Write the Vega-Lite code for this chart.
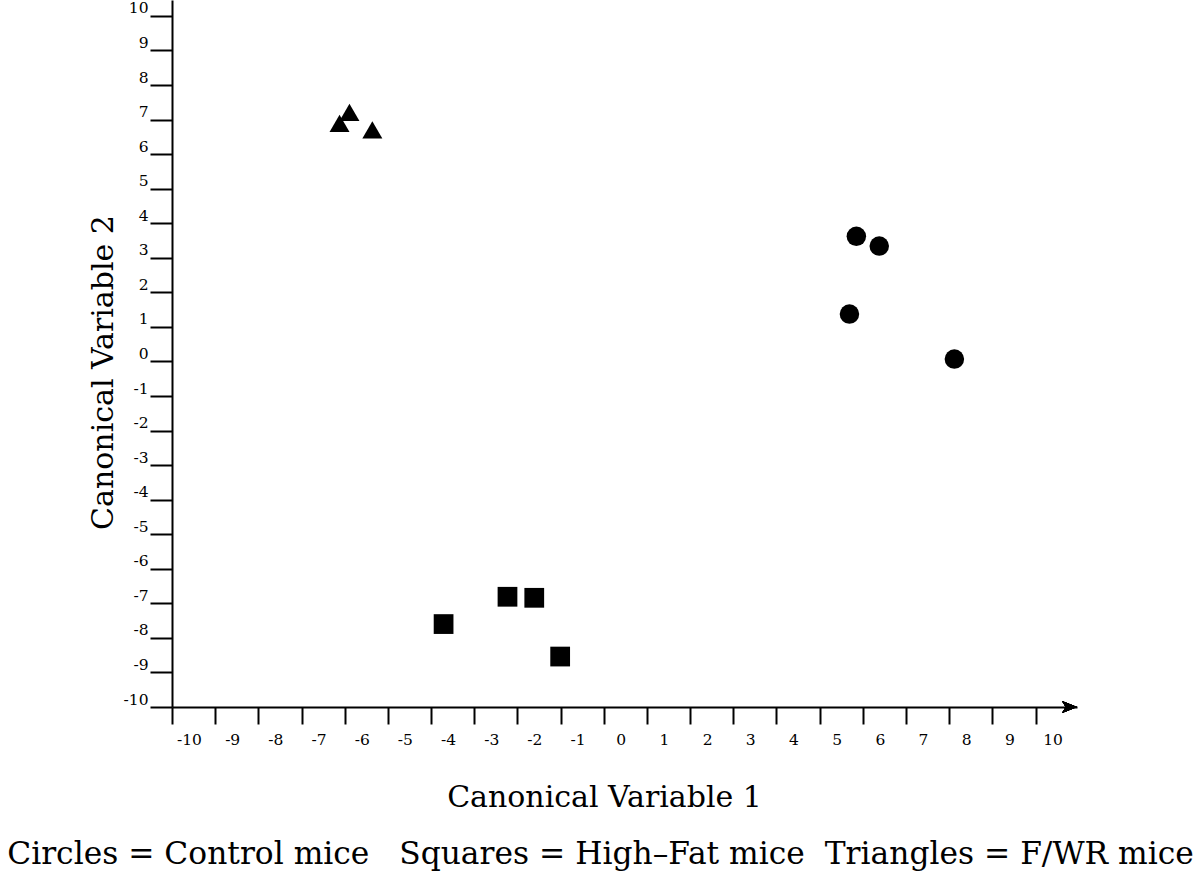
{
  "$schema": "https://vega.github.io/schema/vega-lite/v6.json",
  "autosize": "none",
  "width": 905,
  "height": 707,
  "padding": {"left": 172, "top": 0, "right": 123, "bottom": 170},
  "background": "white",
  "config": {
    "view": {"stroke": null},
    "font": "DejaVu Serif",
    "axis": {
      "grid": false,
      "domainColor": "black",
      "domainWidth": 2,
      "tickColor": "black",
      "tickWidth": 2,
      "labelColor": "black",
      "labelFont": "DejaVu Serif",
      "labelFontSize": 15.5,
      "titleFont": "DejaVu Serif",
      "titleFontWeight": "normal",
      "titleColor": "black",
      "titleFontSize": 30
    }
  },
  "title": {
    "text": "Circles = Control mice\u00a0\u00a0\u00a0Squares = High–Fat mice\u00a0\u00a0Triangles = F/WR mice",
    "orient": "bottom",
    "anchor": "middle",
    "frame": "group",
    "font": "DejaVu Serif",
    "fontSize": 31.3,
    "fontWeight": "normal",
    "color": "black",
    "dx": -24,
    "offset": 27
  },
  "data": {
    "values": [
      {"x": 5.85, "y": 3.62, "group": "Control"},
      {"x": 6.38, "y": 3.34, "group": "Control"},
      {"x": 5.69, "y": 1.37, "group": "Control"},
      {"x": 8.12, "y": 0.07, "group": "Control"},
      {"x": -3.71, "y": -7.60, "group": "High-Fat"},
      {"x": -2.23, "y": -6.81, "group": "High-Fat"},
      {"x": -1.61, "y": -6.84, "group": "High-Fat"},
      {"x": -1.01, "y": -8.54, "group": "High-Fat"},
      {"x": -5.89, "y": 7.21, "group": "F/WR"},
      {"x": -6.12, "y": 6.89, "group": "F/WR"},
      {"x": -5.36, "y": 6.70, "group": "F/WR"}
    ]
  },
  "layer": [
    {
      "mark": {"type": "point", "filled": true, "opacity": 1, "color": "black", "clip": false},
      "encoding": {
        "x": {
          "field": "x",
          "type": "quantitative",
          "scale": {"domain": [-10, 10.96], "nice": false, "zero": false},
          "axis": {
            "orient": "bottom",
            "values": [-10, -9, -8, -7, -6, -5, -4, -3, -2, -1, 0, 1, 2, 3, 4, 5, 6, 7, 8, 9, 10],
            "labelExpr": "datum.value < 0 ? '-' + abs(datum.value) : '' + datum.value",
            "tickSize": 17,
            "labelOffset": 17,
            "labelPadding": 8,
            "labelBaseline": "top",
            "labelFlush": false,
            "labelOverlap": false,
            "title": "Canonical Variable 1",
            "titleX": 432,
            "titleY": 99,
            "titleBaseline": "alphabetic",
            "titleAlign": "center"
          }
        },
        "y": {
          "field": "y",
          "type": "quantitative",
          "scale": {"domain": [-10, 10.46], "nice": false, "zero": false},
          "axis": {
            "orient": "left",
            "values": [-10, -9, -8, -7, -6, -5, -4, -3, -2, -1, 0, 1, 2, 3, 4, 5, 6, 7, 8, 9, 10],
            "labelExpr": "datum.value < 0 ? '-' + abs(datum.value) : '' + datum.value",
            "tickSize": 22,
            "labelPadding": 2,
            "labelBaseline": "alphabetic",
            "labelOffset": -3,
            "labelFlush": false,
            "labelOverlap": false,
            "title": "Canonical Variable 2",
            "titleX": -60,
            "titleY": 372,
            "titleAngle": 270,
            "titleBaseline": "alphabetic",
            "titleAlign": "center"
          }
        },
        "shape": {
          "field": "group",
          "type": "nominal",
          "scale": {"domain": ["Control", "High-Fat", "F/WR"], "range": ["circle", "square", "triangle-up"]},
          "legend": null
        },
        "size": {
          "field": "group",
          "type": "nominal",
          "scale": {"domain": ["Control", "High-Fat", "F/WR"], "range": [380, 400, 676]},
          "legend": null
        }
      }
    },
    {
      "mark": {"type": "point", "filled": true, "opacity": 1, "color": "black", "clip": false, "shape": "M0,0 L-1,-0.4 L-0.75,0 L-1,0.4 Z", "size": 900},
      "encoding": {
        "x": {
          "datum": 10.96,
          "type": "quantitative",
          "axis": {
            "orient": "bottom",
            "values": [-10, -9, -8, -7, -6, -5, -4, -3, -2, -1, 0, 1, 2, 3, 4, 5, 6, 7, 8, 9, 10],
            "labelExpr": "datum.value < 0 ? '-' + abs(datum.value) : '' + datum.value",
            "tickSize": 17,
            "labelOffset": 17,
            "labelPadding": 8,
            "labelBaseline": "top",
            "labelFlush": false,
            "labelOverlap": false,
            "title": "Canonical Variable 1",
            "titleX": 432,
            "titleY": 99,
            "titleBaseline": "alphabetic",
            "titleAlign": "center"
          }
        },
        "y": {
          "datum": -10,
          "type": "quantitative",
          "axis": {
            "orient": "left",
            "values": [-10, -9, -8, -7, -6, -5, -4, -3, -2, -1, 0, 1, 2, 3, 4, 5, 6, 7, 8, 9, 10],
            "labelExpr": "datum.value < 0 ? '-' + abs(datum.value) : '' + datum.value",
            "tickSize": 22,
            "labelPadding": 2,
            "labelBaseline": "alphabetic",
            "labelOffset": -3,
            "labelFlush": false,
            "labelOverlap": false,
            "title": "Canonical Variable 2",
            "titleX": -60,
            "titleY": 372,
            "titleAngle": 270,
            "titleBaseline": "alphabetic",
            "titleAlign": "center"
          }
        }
      }
    }
  ]
}
